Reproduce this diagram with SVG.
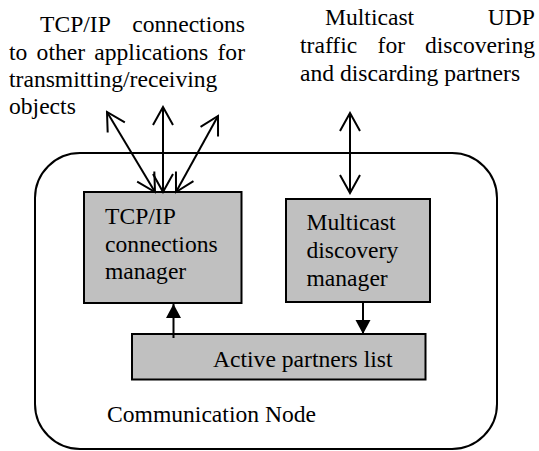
<svg xmlns="http://www.w3.org/2000/svg" width="539" height="451" viewBox="0 0 539 451">
<style>
text{font-family:"Liberation Serif","Times New Roman",serif;font-size:23.6px;fill:#000}
.box{fill:#c0c0c0;stroke:#000;stroke-width:2}
.outer{fill:#fff;stroke:#000;stroke-width:2}
.ln{stroke:#000;stroke-width:2;fill:none}
</style>
<defs>
<marker id="open" markerUnits="userSpaceOnUse" viewBox="-20 -12 22 24" markerWidth="22" markerHeight="24" refX="0" refY="0" orient="auto-start-reverse">
<path d="M-18,-10 L0,0 L-18,10" fill="none" stroke="#000" stroke-width="2"/>
</marker>
<marker id="solid" markerUnits="userSpaceOnUse" viewBox="-16 -9 17 18" markerWidth="17" markerHeight="18" refX="0" refY="0" orient="auto">
<path d="M-14,-7.5 L0,0 L-14,7.5 Z" fill="#000"/>
</marker>
</defs>
<rect width="539" height="451" fill="#fff"/>
<g id="communication-node">
<rect class="outer" x="35" y="153" width="462" height="296" rx="45" ry="45"/>
<text x="107" y="422">Communication Node</text>
</g>
<g id="tcp-label">
<text x="40" y="32">TCP/IP</text>
<text x="245" y="32" text-anchor="end">connections</text>
<text x="9" y="59.5">to</text>
<text x="36.6" y="59.5">other</text>
<text x="94.3" y="59.5">applications</text>
<text x="245" y="59.5" text-anchor="end">for</text>
<text x="9" y="87">transmitting/receiving</text>
<text x="9" y="114">objects</text>
</g>
<g id="udp-label">
<text x="325" y="25">Multicast</text>
<text x="535" y="25" text-anchor="end">UDP</text>
<text x="300" y="53">traffic</text>
<text x="377.6" y="53">for</text>
<text x="535" y="53" text-anchor="end">discovering</text>
<text x="300" y="80.5">and discarding partners</text>
</g>
<g id="tcp-manager">
<rect class="box" x="84" y="192" width="157.5" height="111"/>
<text x="105" y="224">TCP/IP</text>
<text x="105" y="251.7">connections</text>
<text x="105" y="279">manager</text>
</g>
<g id="multicast-manager">
<rect class="box" x="286" y="199" width="144" height="103"/>
<text x="306.5" y="230">Multicast</text>
<text x="306.5" y="258">discovery</text>
<text x="306.5" y="286">manager</text>
</g>
<g id="active-partners">
<rect class="box" x="132" y="334" width="293.5" height="45.5"/>
<text x="213" y="367">Active partners list</text>
</g>
<g id="connectors">
<line class="ln" x1="155" y1="192" x2="107" y2="112" marker-start="url(#open)" marker-end="url(#open)"/>
<line class="ln" x1="163" y1="192" x2="163" y2="107" marker-start="url(#open)" marker-end="url(#open)"/>
<line class="ln" x1="176" y1="192" x2="218" y2="116" marker-start="url(#open)" marker-end="url(#open)"/>
<line class="ln" x1="350" y1="113" x2="350" y2="193" marker-start="url(#open)" marker-end="url(#open)"/>
<line class="ln" x1="173.5" y1="338" x2="173.5" y2="304" marker-end="url(#solid)"/>
<line class="ln" x1="363" y1="302" x2="363" y2="334" marker-end="url(#solid)"/>
</g>
</svg>
